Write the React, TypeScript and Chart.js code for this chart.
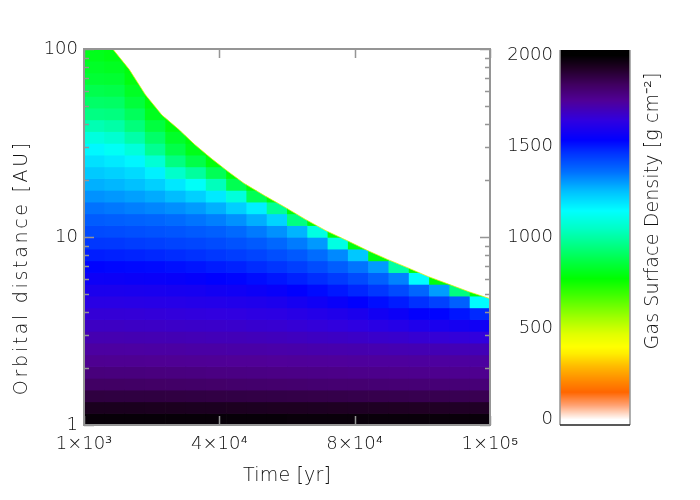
import React, { useEffect, useRef } from "react";
import { Chart, registerables } from "chart.js";

Chart.register(...registerables);

// ---------------- data ----------------
// time bins (yr) of the heat map columns
const timeBinEdges = [1000, 5950, 10900, 15850, 20800, 25750, 30700, 35650, 40600, 45550, 50500, 55450, 60400, 65350, 70300, 75250, 80200, 85150, 90100, 95050, 100000];
// radius bins (AU) of the heat map rows
const radiusBinEdges = [1, 1.155, 1.334, 1.54, 1.778, 2.054, 2.371, 2.738, 3.162, 3.652, 4.217, 4.87, 5.623, 6.494, 7.499, 8.66, 10, 11.55, 13.34, 15.4, 17.78, 20.54, 23.71, 27.38, 31.62, 36.52, 42.17, 48.7, 56.23, 64.94, 74.99, 86.6, 100];
// gas surface density (g cm^-2), one list per time bin, from r = 1 AU outwards up to the disc edge
const sigmaColumns = [
  [1984, 1943, 1889, 1834, 1795, 1761, 1737, 1713, 1686, 1658, 1628, 1597, 1564, 1531, 1494, 1456, 1424, 1394, 1357, 1314, 1274, 1236, 1198, 1159, 1091, 1022, 954, 916, 881, 847, 828, 810],
  [1984, 1943, 1888, 1833, 1794, 1760, 1736, 1713, 1686, 1658, 1628, 1597, 1562, 1528, 1490, 1453, 1421, 1389, 1349, 1307, 1265, 1224, 1183, 1132, 1069, 1005, 949, 913, 875, 843, 820, 798],
  [1984, 1943, 1888, 1832, 1793, 1759, 1735, 1711, 1683, 1656, 1625, 1594, 1559, 1525, 1485, 1447, 1415, 1384, 1340, 1296, 1251, 1207, 1162, 1086, 1007, 943, 900, 857, 824, 794, 790],
  [1984, 1942, 1887, 1830, 1791, 1758, 1734, 1710, 1682, 1653, 1622, 1591, 1557, 1521, 1480, 1442, 1410, 1378, 1330, 1281, 1226, 1171, 1075, 975, 918, 862, 816, 790, 790],
  [1984, 1941, 1886, 1829, 1790, 1757, 1733, 1708, 1679, 1651, 1620, 1588, 1552, 1514, 1473, 1436, 1405, 1369, 1319, 1257, 1185, 1059, 951, 876, 832, 790, 790],
  [1984, 1940, 1884, 1827, 1788, 1755, 1731, 1705, 1677, 1648, 1617, 1584, 1546, 1507, 1466, 1430, 1397, 1355, 1303, 1226, 1136, 992, 875, 807, 790],
  [1984, 1940, 1883, 1825, 1786, 1754, 1730, 1703, 1675, 1645, 1613, 1576, 1537, 1497, 1456, 1422, 1389, 1340, 1274, 1183, 1035, 894, 790],
  [1984, 1939, 1881, 1823, 1784, 1752, 1728, 1702, 1673, 1642, 1610, 1572, 1530, 1488, 1446, 1410, 1371, 1316, 1227, 1086, 887, 790],
  [1984, 1938, 1880, 1821, 1782, 1751, 1727, 1699, 1668, 1637, 1604, 1563, 1519, 1474, 1433, 1396, 1346, 1277, 1174, 892, 790],
  [1984, 1937, 1878, 1819, 1780, 1749, 1725, 1696, 1665, 1633, 1598, 1553, 1506, 1460, 1417, 1375, 1316, 1220, 978, 790],
  [1981, 1937, 1877, 1817, 1779, 1748, 1723, 1692, 1660, 1625, 1586, 1538, 1490, 1444, 1398, 1345, 1269, 950, 790],
  [1981, 1936, 1875, 1815, 1777, 1747, 1721, 1688, 1654, 1617, 1572, 1521, 1471, 1421, 1367, 1305, 1100, 790],
  [1981, 1935, 1873, 1813, 1775, 1745, 1719, 1684, 1647, 1608, 1556, 1503, 1450, 1392, 1326, 1100, 790],
  [1981, 1934, 1871, 1812, 1773, 1744, 1717, 1680, 1639, 1597, 1538, 1482, 1424, 1356, 1240, 800],
  [1981, 1934, 1869, 1810, 1771, 1743, 1715, 1674, 1628, 1577, 1517, 1455, 1386, 1303, 800],
  [1981, 1933, 1867, 1808, 1769, 1742, 1712, 1671, 1619, 1562, 1497, 1424, 1336, 1000],
  [1981, 1931, 1865, 1806, 1767, 1741, 1710, 1664, 1606, 1543, 1467, 1379, 1150, 790],
  [1981, 1930, 1864, 1805, 1766, 1740, 1708, 1660, 1595, 1532, 1438, 1300, 790],
  [1981, 1929, 1862, 1804, 1765, 1739, 1706, 1653, 1583, 1507, 1387, 950],
  [1981, 1929, 1861, 1803, 1764, 1738, 1704, 1646, 1571, 1477, 1150, 790],
];
// outer edge of the gas disc
const edgeTimes = [1000, 8000, 12000, 16000, 20000, 24000, 28000, 32000, 36000, 40000, 45000, 50000, 55000, 60000, 65000, 70000, 75000, 80000, 85000, 90000, 95000, 100000];
const edgeRadius = [130, 100, 78, 57, 44.5, 37.5, 31, 26.2, 22.4, 19.3, 16.6, 14.4, 12.4, 10.8, 9.6, 8.5, 7.6, 6.85, 6.15, 5.6, 5.1, 4.7];

const xTickValues = [1000, 34000, 67000, 100000];
const xTickLabels = ["1×10³", "4×10⁴", "8×10⁴", "1×10⁵"];
const yTickValues = [1, 10, 100];
const yTickLabels = ["1", "10", "100"];
const yMinorTicks = [2, 3, 4, 5, 6, 7, 8, 9, 20, 30, 40, 50, 60, 70, 80, 90];
const cbarTickValues = [0, 500, 1000, 1500, 2000];
const cbarTickLabels = ["0", "500", "1000", "1500", "2000"];

const xTitle = "Time [yr]";
const yTitle = "Orbital distance [AU]";
const cbarTitle = "Gas Surface Density [g cm⁻²]";

// colour table (value -> colour)
const cmapStops = [0, 80, 150, 224, 293, 363, 400, 470, 560, 683, 773, 864, 950, 1040, 1147, 1253, 1360, 1467, 1536, 1643, 1750, 1840, 1930, 2000];
const cmapColors = ["#ffffff", "#ffa070", "#ff6600", "#ff9000", "#ffbb00", "#ffee00", "#ffff00", "#e0ff00", "#a0ff00", "#40ff00", "#00ff00", "#00ff40", "#00ff80", "#00ffc0", "#00ffff", "#00c0ff", "#0070ff", "#0030ff", "#0000ff", "#3000e0", "#500098", "#400060", "#200025", "#000000"];

// ---------------- styling ----------------
const FONT_FAMILY = '"DejaVu Sans", "Liberation Sans", sans-serif';
const TEXT_COLOR = "#111111";
const AXIS_COLOR = "#959595";

const cmapRgb = cmapColors.map((h) => [parseInt(h.slice(1, 3), 16), parseInt(h.slice(3, 5), 16), parseInt(h.slice(5, 7), 16)]);
function colorFor(v: number): string {
  const n = cmapStops.length;
  if (v <= cmapStops[0]) return cmapColors[0];
  if (v >= cmapStops[n - 1]) return cmapColors[n - 1];
  let k = 0;
  while (v > cmapStops[k + 1]) k++;
  const f = (v - cmapStops[k]) / (cmapStops[k + 1] - cmapStops[k]);
  const a = cmapRgb[k];
  const b = cmapRgb[k + 1];
  return `rgb(${Math.round(a[0] + (b[0] - a[0]) * f)},${Math.round(a[1] + (b[1] - a[1]) * f)},${Math.round(a[2] + (b[2] - a[2]) * f)})`;
}

function drawSpacedText(ctx: CanvasRenderingContext2D, text: string, cx: number, cy: number, rot: number, targetWidth: number | null) {
  ctx.save();
  ctx.translate(cx, cy);
  ctx.rotate(rot);
  ctx.textAlign = "center";
  ctx.textBaseline = "middle";
  const anyCtx = ctx as any;
  if (targetWidth && "letterSpacing" in anyCtx) {
    anyCtx.letterSpacing = "0px";
    const w = ctx.measureText(text).width;
    const sp = Math.max(0, (targetWidth - w) / text.length);
    anyCtx.letterSpacing = `${sp}px`;
    ctx.fillText(text, sp / 2, 0);
  } else {
    ctx.fillText(text, 0, 0);
  }
  ctx.restore();
}

const heatmapPlugin = {
  id: "heatmap",
  beforeDatasetsDraw(chart: any) {
    const { ctx, chartArea: a } = chart;
    const xs = chart.scales.x;
    const ys = chart.scales.y;
    ctx.save();
    ctx.beginPath();
    ctx.rect(a.left, a.top, a.right - a.left, a.bottom - a.top);
    ctx.clip();
    // region inside the disc edge
    ctx.beginPath();
    ctx.moveTo(xs.getPixelForValue(edgeTimes[0]), ys.getPixelForValue(edgeRadius[0]));
    for (let i = 1; i < edgeTimes.length; i++) {
      ctx.lineTo(xs.getPixelForValue(edgeTimes[i]), ys.getPixelForValue(edgeRadius[i]));
    }
    ctx.lineTo(xs.getPixelForValue(edgeTimes[edgeTimes.length - 1]) + 2, a.bottom + 2);
    ctx.lineTo(xs.getPixelForValue(edgeTimes[0]) - 2, a.bottom + 2);
    ctx.closePath();
    ctx.clip();
    sigmaColumns.forEach((col, i) => {
      const x0 = xs.getPixelForValue(timeBinEdges[i]);
      const x1 = xs.getPixelForValue(timeBinEdges[i + 1]);
      col.forEach((v, j) => {
        const yb = ys.getPixelForValue(radiusBinEdges[j]);
        const yt = ys.getPixelForValue(radiusBinEdges[j + 1]);
        ctx.fillStyle = colorFor(v);
        ctx.fillRect(x0, yt, x1 - x0 + 0.7, yb - yt + 0.7);
      });
    });
    ctx.restore();
  },
  afterDatasetsDraw(chart: any) {
    const { ctx, chartArea: a } = chart;
    const xs = chart.scales.x;
    const ys = chart.scales.y;
    ctx.save();
    ctx.strokeStyle = AXIS_COLOR;
    ctx.lineWidth = 1.5;
    ctx.beginPath();
    for (const v of yMinorTicks) {
      const py = Math.round(ys.getPixelForValue(v)) + 0.5;
      ctx.moveTo(a.left, py);
      ctx.lineTo(a.left + 5, py);
      ctx.moveTo(a.right, py);
      ctx.lineTo(a.right - 5, py);
    }
    for (const v of yTickValues) {
      const py = Math.round(ys.getPixelForValue(v)) + 0.5;
      ctx.moveTo(a.left, py);
      ctx.lineTo(a.left + 10, py);
      ctx.moveTo(a.right, py);
      ctx.lineTo(a.right - 10, py);
    }
    for (const v of xTickValues) {
      const px = Math.round(xs.getPixelForValue(v)) + 0.5;
      ctx.moveTo(px, a.top);
      ctx.lineTo(px, a.top + 9);
      ctx.moveTo(px, a.bottom);
      ctx.lineTo(px, a.bottom - 9);
    }
    ctx.stroke();
    ctx.lineWidth = 2;
    ctx.strokeRect(a.left, a.top, a.right - a.left, a.bottom - a.top);
    ctx.restore();
  },
  afterDraw(chart: any) {
    const { ctx, chartArea: a } = chart;
    ctx.save();
    ctx.fillStyle = TEXT_COLOR;
    ctx.font = `300 19px ${FONT_FAMILY}`;
    drawSpacedText(ctx, xTitle, (a.left + a.right) / 2, a.bottom + 51, 0, 88);
    drawSpacedText(ctx, yTitle, 22, a.top + 220, -Math.PI / 2, 255);
    ctx.restore();
  },
};

const colorbarPlugin = {
  id: "colorbar",
  beforeDatasetsDraw(chart: any) {
    const { ctx, chartArea: a } = chart;
    const ys = chart.scales.y;
    ctx.save();
    const top = Math.round(a.top);
    const bottom = Math.round(a.bottom);
    for (let py = top; py < bottom; py++) {
      const v = ys.getValueForPixel(py + 0.5);
      ctx.fillStyle = colorFor(v);
      ctx.fillRect(a.left, py, a.right - a.left, 1);
    }
    ctx.strokeStyle = AXIS_COLOR;
    ctx.lineWidth = 1.5;
    ctx.beginPath();
    ctx.moveTo(a.left, a.top);
    ctx.lineTo(a.left, a.bottom);
    ctx.moveTo(a.right, a.top);
    ctx.lineTo(a.right, a.bottom);
    ctx.stroke();
    ctx.strokeStyle = "#222222";
    ctx.beginPath();
    ctx.moveTo(a.left, a.bottom);
    ctx.lineTo(a.right, a.bottom);
    ctx.stroke();
    ctx.restore();
  },
  afterDraw(chart: any) {
    const { ctx } = chart;
    ctx.save();
    ctx.fillStyle = TEXT_COLOR;
    ctx.font = `300 19px ${FONT_FAMILY}`;
    drawSpacedText(ctx, cbarTitle, 173, 211, -Math.PI / 2, 277);
    ctx.restore();
  },
};

const tickFont = { family: FONT_FAMILY, size: 18, weight: "300" as any };

export default function App() {
  const mainRef = useRef<HTMLCanvasElement | null>(null);
  const cbarRef = useRef<HTMLCanvasElement | null>(null);

  useEffect(() => {
    if (!mainRef.current || !cbarRef.current) return;
    const edgeData = edgeTimes.map((t, i) => ({ x: t, y: edgeRadius[i] }));
    const main = new Chart(mainRef.current, {
      type: "scatter",
      data: {
        datasets: [
          {
            label: "disc edge",
            data: edgeData,
            showLine: true,
            borderColor: "rgba(225,240,0,0.75)",
            borderWidth: 1,
            pointRadius: 0,
            tension: 0,
          } as any,
        ],
      },
      options: {
        animation: false,
        responsive: false,
        layout: { padding: { left: 0, right: 210, top: 49, bottom: 0 } },
        plugins: { legend: { display: false }, tooltip: { enabled: false } },
        scales: {
          x: {
            type: "linear",
            min: 1000,
            max: 100000,
            grid: { display: false, drawTicks: false },
            border: { display: false },
            afterBuildTicks: (s: any) => {
              s.ticks = xTickValues.map((v) => ({ value: v }));
            },
            afterFit: (s: any) => {
              s.height = 75;
            },
            ticks: {
              autoSkip: false,
              maxRotation: 0,
              padding: 9,
              color: TEXT_COLOR,
              font: tickFont,
              callback: (_v: any, i: number) => xTickLabels[i],
            },
          },
          y: {
            type: "logarithmic",
            min: 1,
            max: 100,
            grid: { display: false, drawTicks: false },
            border: { display: false },
            afterBuildTicks: (s: any) => {
              s.ticks = yTickValues.map((v) => ({ value: v }));
            },
            afterFit: (s: any) => {
              s.width = 84;
            },
            ticks: {
              autoSkip: false,
              padding: 6,
              color: TEXT_COLOR,
              font: tickFont,
              callback: (_v: any, i: number) => yTickLabels[i],
            },
          },
        },
      } as any,
      plugins: [heatmapPlugin],
    });

    const cbar = new Chart(cbarRef.current, {
      type: "scatter",
      data: { datasets: [] },
      options: {
        animation: false,
        responsive: false,
        layout: { padding: { left: 0, right: 70, top: 50, bottom: 75 } },
        plugins: { legend: { display: false }, tooltip: { enabled: false } },
        scales: {
          x: { display: false, min: 0, max: 1 },
          y: {
            type: "linear",
            min: -30,
            max: 2030,
            grid: { display: false, drawTicks: false },
            border: { display: false },
            afterBuildTicks: (s: any) => {
              s.ticks = cbarTickValues.map((v) => ({ value: v }));
            },
            afterFit: (s: any) => {
              s.width = 80;
            },
            ticks: {
              autoSkip: false,
              padding: 7,
              color: TEXT_COLOR,
              font: tickFont,
              callback: (_v: any, i: number) => cbarTickLabels[i],
            },
          },
        },
      } as any,
      plugins: [colorbarPlugin],
    });

    return () => {
      main.destroy();
      cbar.destroy();
    };
  }, []);

  return (
    <div style={{ position: "absolute", left: 0, top: 0, width: 700, height: 500, background: "#ffffff", overflow: "hidden" }}>
      <canvas ref={mainRef} width={700} height={500} style={{ position: "absolute", left: 0, top: 0, width: 700, height: 500 }} />
      <canvas ref={cbarRef} width={220} height={500} style={{ position: "absolute", left: 480, top: 0, width: 220, height: 500 }} />
    </div>
  );
}
